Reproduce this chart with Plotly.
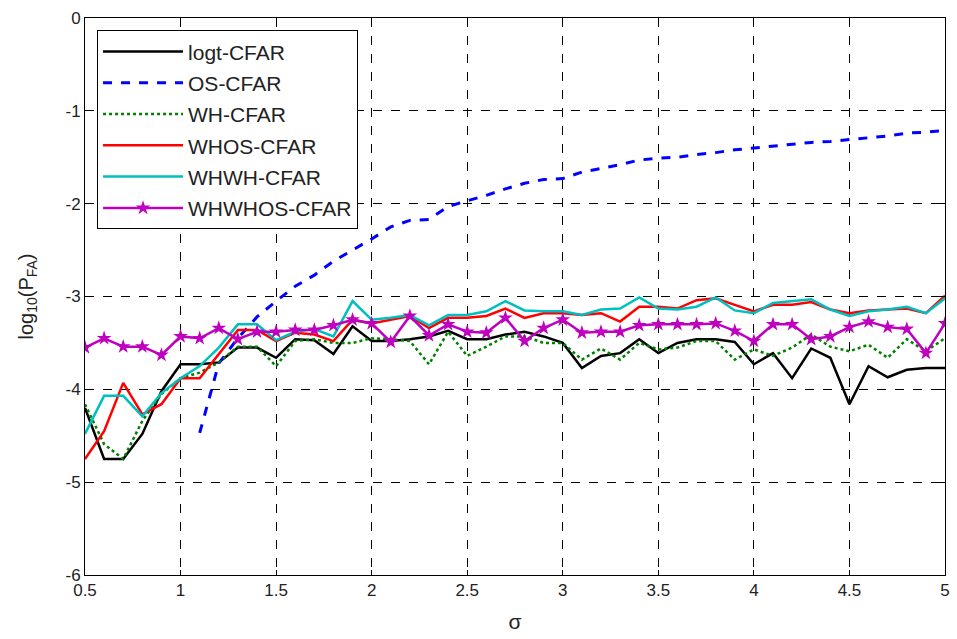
import plotly.graph_objects as go

# sigma grid shared by all detectors
sigma = [round(0.5 + 0.1 * i, 1) for i in range(46)]

logt_cfar = [-4.20, -4.75, -4.75, -4.48, -4.02, -3.73, -3.73, -3.71, -3.55, -3.55,
             -3.66, -3.46, -3.47, -3.62, -3.32, -3.48, -3.48, -3.46, -3.43, -3.37,
             -3.46, -3.46, -3.41, -3.38, -3.43, -3.50, -3.77, -3.64, -3.61, -3.46,
             -3.61, -3.50, -3.46, -3.46, -3.49, -3.73, -3.61, -3.88, -3.56, -3.66,
             -4.16, -3.75, -3.87, -3.79, -3.77, -3.77]

# OS-CFAR is only defined from sigma = 1.1 onward
os_sigma = [round(1.1 + 0.1 * i, 1) for i in range(40)]
os_cfar = [-4.47, -3.72, -3.45, -3.22, -3.05, -2.89, -2.77, -2.62, -2.50, -2.38,
           -2.25, -2.18, -2.17, -2.03, -1.97, -1.91, -1.84, -1.78, -1.74, -1.73,
           -1.66, -1.62, -1.58, -1.53, -1.51, -1.50, -1.47, -1.45, -1.42, -1.40,
           -1.38, -1.36, -1.34, -1.33, -1.31, -1.29, -1.27, -1.24, -1.23, -1.21]

wh_cfar = [-4.16, -4.59, -4.75, -4.34, -4.05, -3.88, -3.82, -3.71, -3.54, -3.54,
           -3.75, -3.48, -3.46, -3.50, -3.50, -3.45, -3.46, -3.48, -3.73, -3.38,
           -3.64, -3.54, -3.43, -3.43, -3.50, -3.50, -3.68, -3.56, -3.68, -3.50,
           -3.57, -3.55, -3.48, -3.48, -3.68, -3.57, -3.64, -3.55, -3.41, -3.54,
           -3.59, -3.52, -3.66, -3.46, -3.59, -3.45]

whos_cfar = [-4.75, -4.45, -3.93, -4.27, -4.16, -3.88, -3.88, -3.62, -3.36, -3.36,
             -3.48, -3.39, -3.41, -3.48, -3.25, -3.29, -3.25, -3.21, -3.34, -3.23,
             -3.23, -3.21, -3.13, -3.23, -3.18, -3.18, -3.20, -3.18, -3.27, -3.11,
             -3.11, -3.13, -3.04, -3.02, -3.09, -3.16, -3.09, -3.09, -3.06, -3.14,
             -3.18, -3.15, -3.14, -3.13, -3.18, -2.99]

whwh_cfar = [-4.48, -4.07, -4.07, -4.29, -4.04, -3.88, -3.75, -3.55, -3.30, -3.30,
             -3.47, -3.38, -3.35, -3.43, -3.05, -3.25, -3.23, -3.20, -3.31, -3.20,
             -3.20, -3.16, -3.05, -3.15, -3.16, -3.16, -3.20, -3.14, -3.13, -3.01,
             -3.13, -3.14, -3.11, -3.01, -3.15, -3.18, -3.07, -3.05, -3.03, -3.14,
             -3.21, -3.16, -3.14, -3.11, -3.18, -3.02]

whwhos_cfar = [-3.55, -3.45, -3.54, -3.54, -3.63, -3.43, -3.45, -3.34, -3.46, -3.38,
               -3.38, -3.36, -3.36, -3.31, -3.25, -3.29, -3.49, -3.21, -3.42, -3.30,
               -3.38, -3.39, -3.23, -3.48, -3.34, -3.25, -3.39, -3.38, -3.38, -3.31,
               -3.30, -3.30, -3.30, -3.29, -3.37, -3.48, -3.30, -3.30, -3.46, -3.43,
               -3.33, -3.27, -3.33, -3.35, -3.61, -3.29]

x_ticks = [0.5, 1, 1.5, 2, 2.5, 3, 3.5, 4, 4.5, 5]
x_tick_labels = ["0.5", "1", "1.5", "2", "2.5", "3", "3.5", "4", "4.5", "5"]
y_ticks = [0, -1, -2, -3, -4, -5, -6]
y_tick_labels = ["0", "-1", "-2", "-3", "-4", "-5", "-6"]

FONT = "Liberation Sans, Arial, sans-serif"
TEXT_COLOR = "#222222"

series = [
    ("logt-CFAR", sigma, logt_cfar, dict(color="#000000", width=2.5), None),
    ("OS-CFAR", os_sigma, os_cfar, dict(color="#0000FF", width=3, dash="dash"), None),
    ("WH-CFAR", sigma, wh_cfar, dict(color="#008000", width=2.5, dash="dot"), None),
    ("WHOS-CFAR", sigma, whos_cfar, dict(color="#FF0000", width=2.5), None),
    ("WHWH-CFAR", sigma, whwh_cfar, dict(color="#00BFBF", width=2.5), None),
    ("WHWHOS-CFAR", sigma, whwhos_cfar, dict(color="#BF00BF", width=2.5),
     dict(symbol="star", size=11, color="#BF00BF")),
]

fig = go.Figure()
for name, xs, ys, line, marker in series:
    fig.add_trace(go.Scatter(
        x=xs, y=ys, name=name, legendgroup=name,
        mode="lines+markers" if marker else "lines",
        line=line, marker=marker,
    ))

axis_common = dict(
    showline=True, linecolor="black", linewidth=1, mirror="ticks",
    ticks="inside", ticklen=5, tickcolor="black",
    showgrid=True, gridcolor="black", gridwidth=1, griddash="dash",
    zeroline=False,
    tickfont=dict(family=FONT, size=17, color=TEXT_COLOR),
)

fig.update_xaxes(range=[0.5, 5], tickvals=x_ticks, ticktext=x_tick_labels,
                 title=dict(text="σ", font=dict(family=FONT, size=21, color=TEXT_COLOR),
                            standoff=14),
                 **axis_common)
fig.update_yaxes(range=[-6, 0], tickvals=y_ticks, ticktext=y_tick_labels,
                 title=dict(text="log<sub>10</sub>(P<sub>FA</sub>)",
                            font=dict(family=FONT, size=20, color=TEXT_COLOR),
                            standoff=26),
                 **axis_common)

fig.update_layout(
    width=957, height=639,
    margin=dict(l=85, r=7, t=18, b=64),
    plot_bgcolor="white", paper_bgcolor="white",
    font=dict(family=FONT, color=TEXT_COLOR),
    legend=dict(x=0.014, y=0.978, xanchor="left", yanchor="top",
                bgcolor="white", bordercolor="black", borderwidth=1,
                font=dict(family=FONT, size=21, color=TEXT_COLOR),
                traceorder="grouped", tracegroupgap=1, itemwidth=80),
)

fig.write_html("out.html")
